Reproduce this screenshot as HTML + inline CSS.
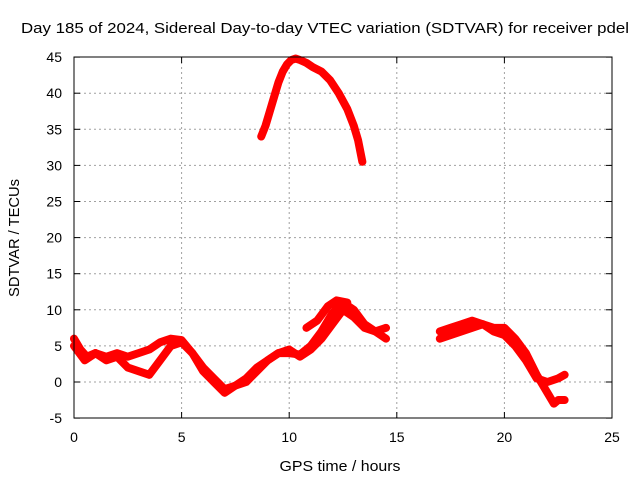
<!DOCTYPE html>
<html><head><meta charset="utf-8"><style>
body{margin:0;background:#fff}
svg{display:block;font-family:"Liberation Sans",sans-serif}
</style></head><body>
<svg id="chart" width="640" height="480">
<text x="325" y="33" font-size="15" textLength="608" lengthAdjust="spacingAndGlyphs" text-anchor="middle">Day 185 of 2024, Sidereal Day-to-day VTEC variation (SDTVAR) for receiver pdel</text>
<text x="340" y="471" font-size="15" textLength="121" lengthAdjust="spacingAndGlyphs" text-anchor="middle">GPS time / hours</text>
<text transform="translate(19,238) rotate(-90)" font-size="15" textLength="118" lengthAdjust="spacingAndGlyphs" text-anchor="middle">SDTVAR / TECUs</text>
<g id="grid"></g><g id="ticks"></g><g id="series"></g>
<rect x="74" y="57" width="538" height="361" fill="none" stroke="#000" stroke-width="1"/>
</svg>
<script>
const xTicks=[0,5,10,15,20,25];
const yTicks=[-5,0,5,10,15,20,25,30,35,40,45];
const sA_x=[0,0.3,0.6,1,1.5,2,2.5,3,3.5,4,4.5,5,5.5,6,6.5,7,7.5,8,8.5,9,9.5,10,10.5,11,11.5,12,12.5,13,13.5,14,14.5];
const sA_y=[6,4.5,3.5,4,3.5,4,3.5,4,4.5,5.5,6,5.8,4,2,0.5,-1,-0.5,0.5,2,3,4,4,3.8,5,7,9.5,11,10,8,7,7.5];
const sB_x=[0,0.5,1,1.5,2,2.5,3,3.5,4,4.5,5,5.5,6,6.5,7,7.5,8,8.5,9,9.5,10,10.5,11,11.5,12,12.5,13,13.5,14,14.5];
const sB_y=[5,3,4,3,3.5,2,1.5,1,3,5,5.5,4,1.5,0,-1.5,-0.5,0,1.5,3,4,4.5,3.5,4.5,6,8,10,9,7.5,7,6];
const sC_x=[8.7,8.9,9.1,9.3,9.5,9.7,9.9,10.1,10.3,10.5,10.8,11.1,11.5,11.9,12.3,12.7,13.0,13.2,13.4];
const sC_y=[34,35.5,37.5,39.5,41.5,43,44,44.6,44.8,44.6,44.2,43.6,43,41.8,40,37.8,35.5,33.5,30.5];
const sD_x=[17,17.5,18,18.5,19,19.5,20,20.5,21,21.5,22,22.3,22.5,22.8];
const sD_y=[7,7.5,8,8.5,8,7.5,7.5,6,4,1,-1.5,-3,-2.5,-2.5];
const sE_x=[17,17.5,18,18.5,19,19.5,20,20.5,21,21.5,22,22.5,22.8];
const sE_y=[6,6.5,7,7.5,8,7,6.5,5,3,0.5,0,0.5,1];
const sF_x=[10.8,11.3,11.8,12.2,12.7];
const sF_y=[7.5,8.5,10.5,11.3,11];
const X=h=>74+h*538/25, Y=v=>382-v*361/50;
const NS="http://www.w3.org/2000/svg";
const grid=document.getElementById('grid'),ticks=document.getElementById('ticks'),ser=document.getElementById('series');
function mk(tag,at,p){const e=document.createElementNS(NS,tag);for(const k in at)e.setAttribute(k,at[k]);p.appendChild(e);return e;}
xTicks.forEach(t=>{
 if(t>0&&t<25){const g=mk('line',{x1:X(t),x2:X(t),y1:57,y2:418,stroke:'#a0a0a0','stroke-dasharray':'2,3'},grid);
 
 }
 mk('line',{x1:X(t),x2:X(t),y1:418,y2:412,stroke:'#000'},ticks);mk('line',{x1:X(t),x2:X(t),y1:57,y2:63,stroke:'#000'},ticks);
 const l=mk('text',{x:X(t),y:442,'font-size':14,'text-anchor':'middle'},ticks);l.textContent=t;
 
 
});
yTicks.forEach(t=>{
 if(t>-5&&t<45){const g=mk('line',{x1:74,x2:612,y1:Y(t),y2:Y(t),stroke:'#a0a0a0','stroke-dasharray':'2,3'},grid);
 
 }
 mk('line',{x1:74,x2:80,y1:Y(t),y2:Y(t),stroke:'#000'},ticks);mk('line',{x1:606,x2:612,y1:Y(t),y2:Y(t),stroke:'#000'},ticks);
 const l=mk('text',{x:62,y:Y(t)+5,'font-size':14,'text-anchor':'end'},ticks);l.textContent=t;
 
 
});
[[sA_x,sA_y],[sB_x,sB_y],[sC_x,sC_y],[sD_x,sD_y],[sE_x,sE_y],[sF_x,sF_y]].forEach(([xs,ys])=>{
 const p=mk('polyline',{points:xs.map((h,i)=>X(h)+','+Y(ys[i])).join(' '),fill:'none',stroke:'#ff0000','stroke-width':8,'stroke-linejoin':'round','stroke-linecap':'round'},ser);
 
 
});
</script>
</body></html>
